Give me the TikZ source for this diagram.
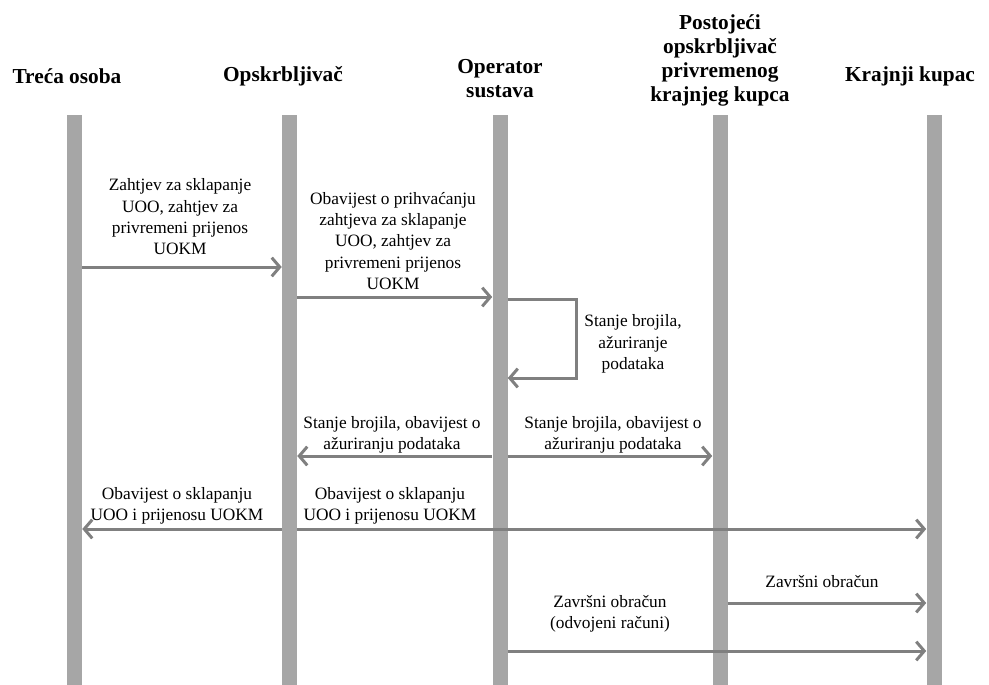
\documentclass[tikz,border=0pt]{standalone}
\usepackage{fontspec}
\setmainfont{Liberation Serif}
\usetikzlibrary{arrows.meta}
\definecolor{barGray}{HTML}{A6A6A6}
\definecolor{msgGray}{HTML}{808080}

\begin{document}
\begin{tikzpicture}[x=0.75pt,y=-0.75pt,
 lifeline/.style={fill=barGray,draw=none,minimum width=11.25pt,minimum height=427.5pt,inner sep=0pt},
 head/.style={font=\fontsize{16}{18}\selectfont\bfseries,align=center,inner sep=0pt},
 lbl/.style={font=\fontsize{13}{16}\selectfont,align=center,inner sep=0pt},
 msg/.style={draw=msgGray,line width=2.25pt,-{Straight Barb[length=6pt,width=14pt]}}]

\useasboundingbox (0,0) rectangle (989,685);

\node[lifeline] (tr) at (74.5,400) {};
\node[lifeline] (op) at (289.5,400) {};
\node[lifeline] (os) at (500,400) {};
\node[lifeline] (po) at (720,400) {};
\node[lifeline] (kk) at (934,400) {};

\node[head] (hTr) at (67,76) {Treća osoba};
\node[head] (hOp) at (283,76) {Opskrbljivač};
\node[head] (hOs) at (500,79) {Operator\\sustava};
\node[head] (hPo) at (720,60) {Postojeći\\opskrbljivač\\privremenog\\krajnjeg kupca};
\node[head] (hKk) at (910,76) {Krajnji kupac};

\coordinate (r1) at (0,267);
\coordinate (r2) at (0,297);
\coordinate (r3a) at (0,299);
\coordinate (r3b) at (0,378);
\coordinate (r4) at (0,456);
\coordinate (r6) at (0,529);
\coordinate (r7) at (0,603);
\coordinate (r8) at (0,651);

\draw[msg] (tr.east |- r1) -- (op.west |- r1);
\draw[msg] (op.east |- r2) -- (os.west |- r2);
\draw[msg] (os.east |- r3a) -- ++(69,0) |- (os.east |- r3b);
\draw[msg] (os.west |- r4) -- (op.east |- r4);
\draw[msg] (os.east |- r4) -- (po.west |- r4);
\draw[msg] (op.west |- r6) -- (tr.east |- r6);
\draw[msg] (op.east |- r6) -- (kk.west |- r6);
\draw[msg] (po.east |- r7) -- (kk.west |- r7);
\draw[msg] (os.east |- r8) -- (kk.west |- r8);

\node[lbl] (l1) at (180,217) {Zahtjev za sklapanje\\UOO, zahtjev za\\privremeni prijenos\\UOKM};
\node[lbl] (l2) at (393,241) {Obavijest o prihvaćanju\\zahtjeva za sklapanje\\UOO, zahtjev za\\privremeni prijenos\\UOKM};
\node[lbl] (l3) at (633,344) {Stanje brojila,\\ažuriranje\\podataka};
\node[lbl] (l4) at (392,435) {Stanje brojila, obavijest o\\ažuriranju podataka};
\node[lbl] (l5) at (613,435) {Stanje brojila, obavijest o\\ažuriranju podataka};
\node[lbl] (l6a) at (177,506) {Obavijest o sklapanju\\UOO i prijenosu UOKM};
\node[lbl] (l6b) at (390,506) {Obavijest o sklapanju\\UOO i prijenosu UOKM};
\node[lbl] (l7) at (822,582) {Završni obračun};
\node[lbl] (l8) at (610,614) {Završni obračun\\(odvojeni računi)};

\end{tikzpicture}
\end{document}
